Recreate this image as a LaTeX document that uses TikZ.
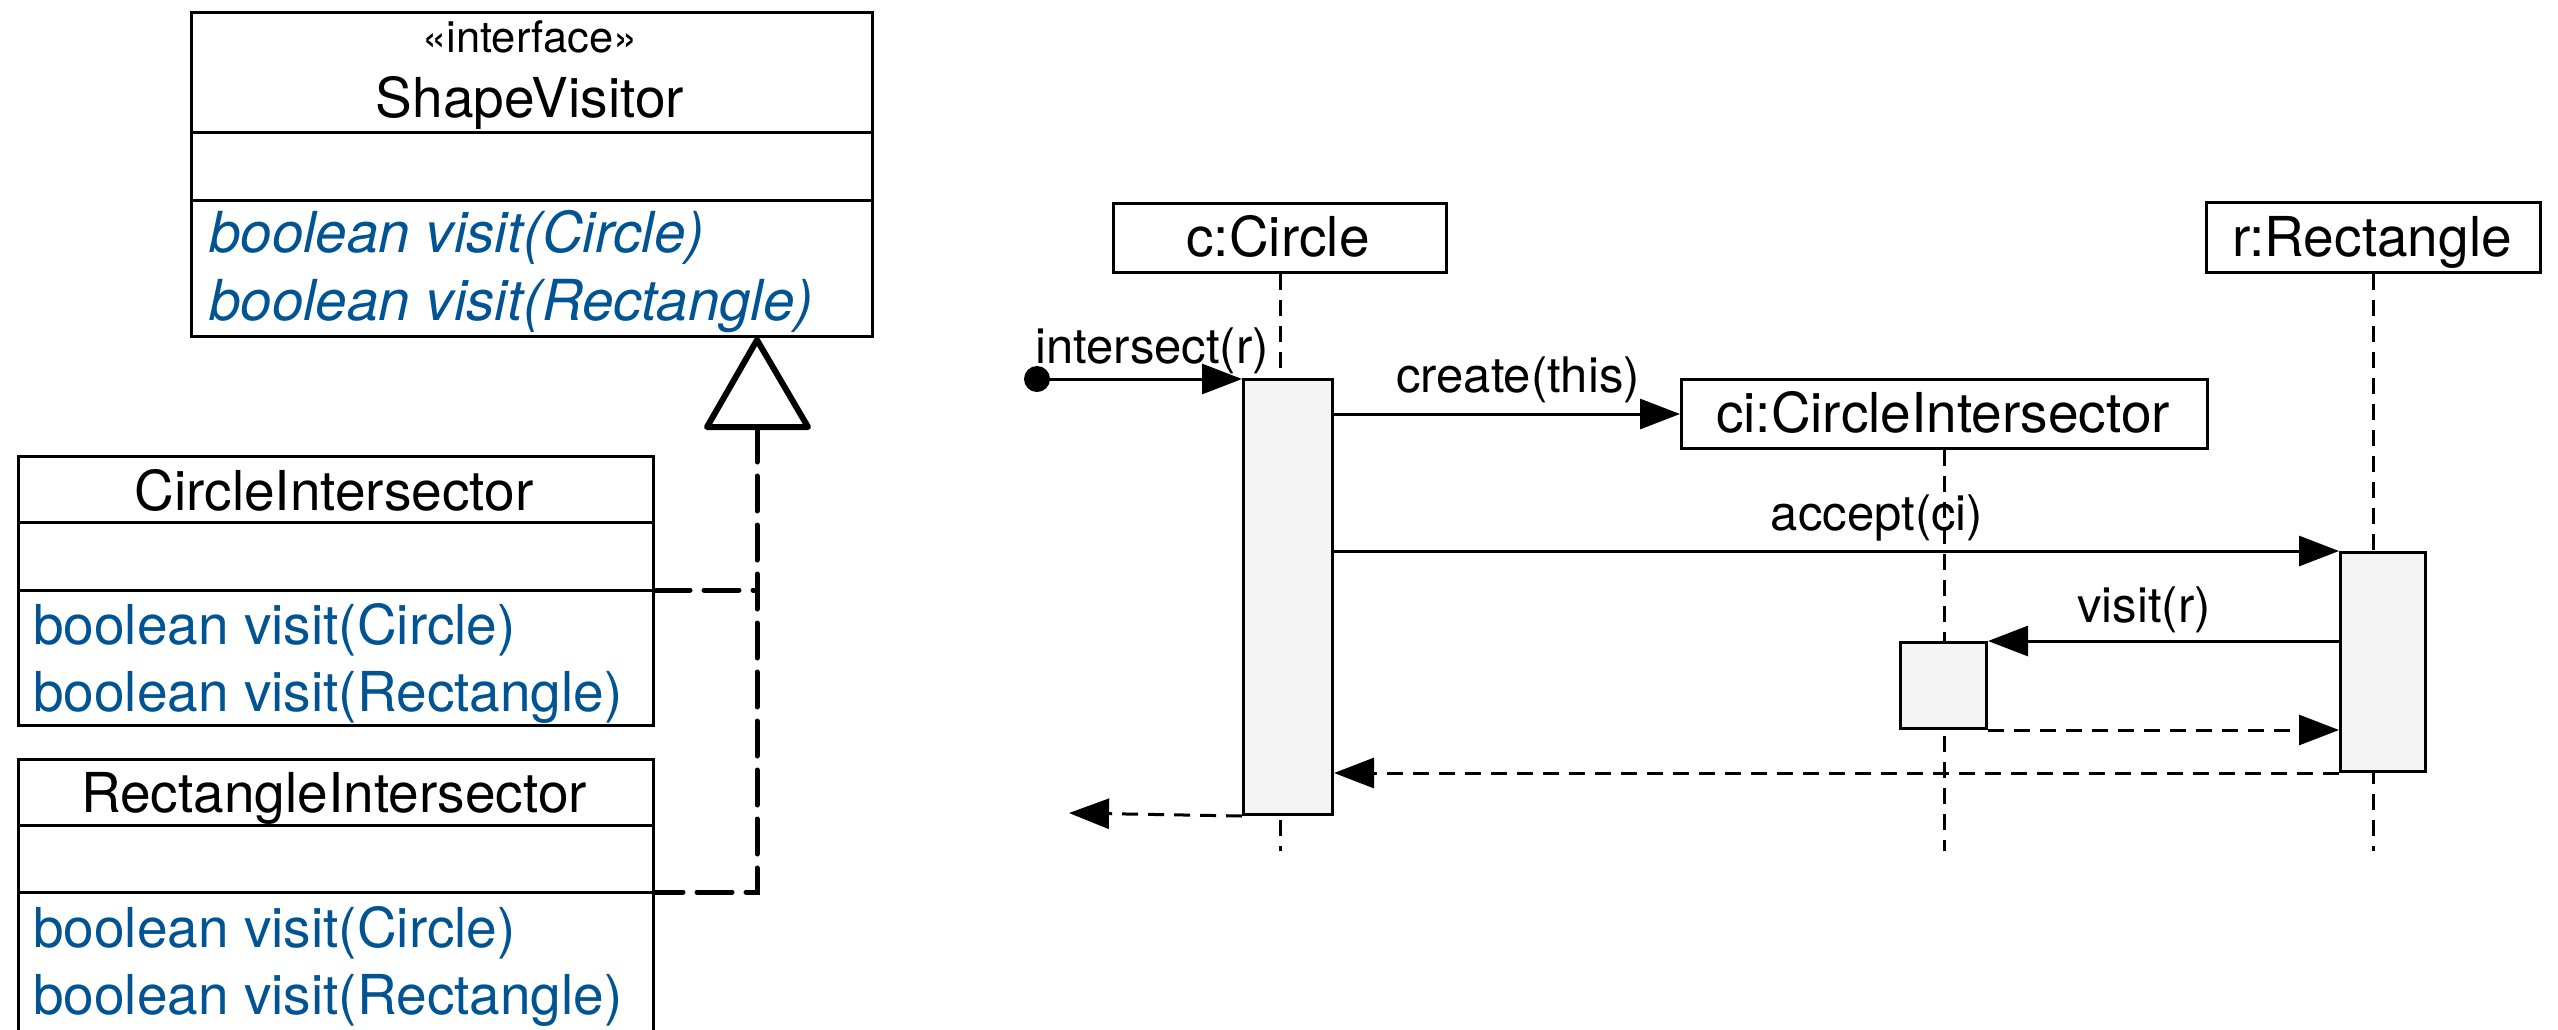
\documentclass[tikz,border=0pt]{standalone}
\usepackage{fontspec}
\setmainfont{TeX Gyre Heros}
\usetikzlibrary{arrows.meta}
\definecolor{ocean}{RGB}{0,84,147}
\definecolor{actfill}{RGB}{244,244,244}
\begin{document}
\begin{tikzpicture}[x=1pt,y=-1pt,
  umlbox/.style={draw=black, line width=3pt, anchor=north west, inner sep=0pt, fill=white},
  divider/.style={line width=3pt},
  bigtxt/.style={font=\fontsize{55}{66}\selectfont, inner sep=0pt},
  smalltxt/.style={font=\fontsize{43.5}{52}\selectfont, inner sep=0pt},
  msgtxt/.style={font=\fontsize{49}{59}\selectfont, inner sep=0pt},
  method/.style={font=\fontsize{55}{66}\selectfont, text=ocean, inner sep=0pt, anchor=base west},
  imethod/.style={method, font=\fontsize{56.5}{68}\selectfont\itshape},
  actbox/.style={draw=black, line width=3pt, anchor=north west, inner sep=0pt, fill=actfill},
  lifeline/.style={line width=3pt, dash pattern=on 16pt off 10pt},
  msg/.style={line width=3pt, -{Triangle[length=40pt,width=30pt]}},
  retmsg/.style={msg, dash pattern=on 16pt off 10pt},
  realize/.style={line width=5pt, line cap=round, dash pattern=on 35pt off 14pt}
]
\clip (0,0) rectangle (2558,1029);
\fill[white] (0,0) rectangle (2558,1029);

% ---------- ShapeVisitor interface ----------
\node[umlbox, minimum width=681pt, minimum height=324pt] (sv) at (190,11) {};
\node[smalltxt, anchor=base] (svst) at (530,52) {«interface»};
\node[bigtxt, anchor=base] (svname) at (530,117) {ShapeVisitor};
\draw[divider] (190,132) -- (871,132);
\draw[divider] (190,200) -- (871,200);
\node[imethod] (svm1) at (209,252) {boolean visit(Circle)};
\node[imethod] (svm2) at (209,320) {boolean visit(Rectangle)};

% ---------- CircleIntersector ----------
\node[umlbox, minimum width=635pt, minimum height=269pt] (cic) at (17,455) {};
\node[bigtxt, anchor=base] (cicname) at (334,510) {CircleIntersector};
\draw[divider] (17,522) -- (652,522);
\draw[divider] (17,590) -- (652,590);
\node[method] (cicm1) at (33,644) {boolean visit(Circle)};
\node[method] (cicm2) at (33,711) {boolean visit(Rectangle)};

% ---------- RectangleIntersector ----------
\node[umlbox, minimum width=635pt, minimum height=400pt] (ric) at (17,758) {};
\node[bigtxt, anchor=base] (ricname) at (334,812) {RectangleIntersector};
\draw[divider] (17,825) -- (652,825);
\draw[divider] (17,892) -- (652,892);
\node[method] (ricm1) at (33,947) {boolean visit(Circle)};
\node[method] (ricm2) at (33,1014) {boolean visit(Rectangle)};

% ---------- realization ----------
\coordinate (apex) at (757,340);
\coordinate (tbase) at (757,427);
\coordinate (joinc) at (757,590);
\coordinate (joinr) at (757,892);
\draw[realize] (tbase) -- (joinr) -- (ric.east |- joinr);
\draw[realize] (cic.east |- joinc) -- (joinc);
\draw[line width=6pt, line join=round, fill=white] (apex) -- (707,427) -- (808,427) -- cycle;

% ---------- sequence diagram: objects ----------
\node[umlbox, minimum width=333pt, minimum height=69pt] (oc) at (1112,202) {};
\node[bigtxt, anchor=base] (octxt) at (1278,256) {c:Circle};
\node[umlbox, minimum width=334pt, minimum height=70pt] (or) at (2205,201) {};
\node[bigtxt, anchor=base] (ortxt) at (2372,256) {r:Rectangle};
\node[umlbox, minimum width=526pt, minimum height=69pt] (oci) at (1680,378) {};
\node[bigtxt, anchor=base] (ocitxt) at (1943,432) {ci:CircleIntersector};

\coordinate (lifeend) at (0,851);
\draw[lifeline] (oc.south) -- (oc.south |- lifeend);
\draw[lifeline] (or.south) -- (or.south |- lifeend);
\draw[lifeline] (oci.south) -- (oci.south |- lifeend);

% activations
\node[actbox, minimum width=89pt, minimum height=435pt] (actc) at (1242,378) {};
\node[actbox, minimum width=85pt, minimum height=219pt] (actr) at (2339,551) {};
\node[actbox, minimum width=86pt, minimum height=86pt] (actci) at (1899,641) {};

% messages
\node[circle, fill=black, inner sep=0pt, minimum size=26pt] (start) at (1037,379) {};
\draw[msg] (start.center) -- (start.center -| actc.west);
\node[msgtxt, anchor=base west] (lintersect) at (1035,363) {intersect(r)};

\draw[msg] (actc.east |- oci.west) -- (oci.west);
\node[msgtxt, anchor=base] (lcreate) at (1518,392) {create(this)};

\draw[msg] (actc.east |- actr.north) -- (actr.north west);
\node[msgtxt, anchor=base] (laccept) at (1877,530) {accept(ci)};

\draw[msg] (actr.west |- actci.north) -- (actci.north east);
\node[msgtxt, anchor=base] (lvisit) at (2144,622) {visit(r)};

\draw[retmsg] (actci.south east) -- (actci.south east -| actr.west);
\draw[retmsg] (actr.south west) -- (actr.south west -| actc.east);
\coordinate (exit) at (1069,813);
\draw[retmsg] (actc.south west) -- (exit);
\end{tikzpicture}
\end{document}
